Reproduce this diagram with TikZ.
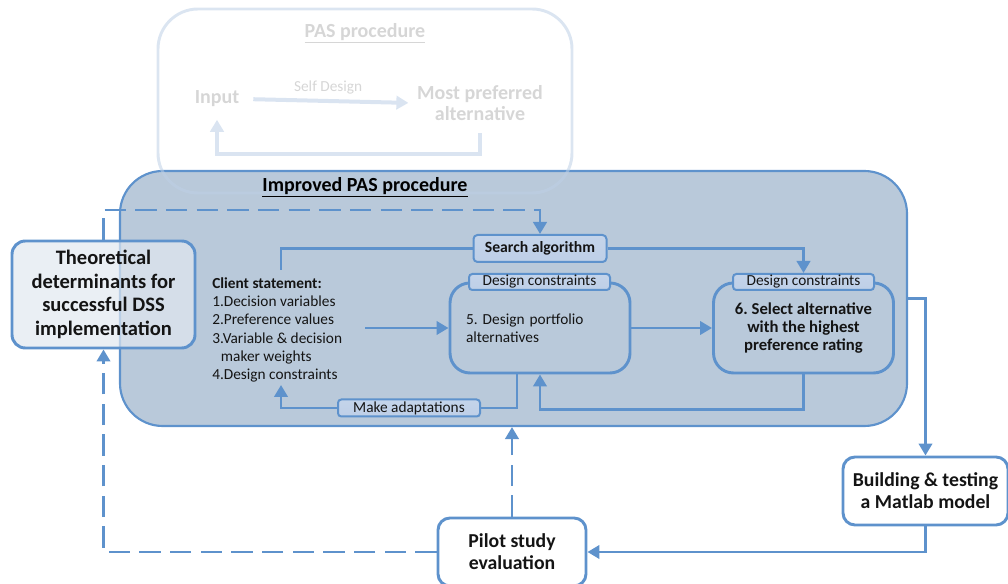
\documentclass[tikz,border=0pt]{standalone}
\usepackage{fontspec}
\setmainfont{Carlito}
\usetikzlibrary{arrows.meta,calc,shadings}
\frenchspacing

\definecolor{lineblue}{RGB}{94,146,204}
\definecolor{mainfill}{RGB}{185,201,218}
\definecolor{theofill}{RGB}{225,232,240}
\definecolor{tagtop}{RGB}{196,212,234}
\definecolor{tagmid}{RGB}{222,233,246}
\definecolor{tagbot}{RGB}{190,207,231}
\definecolor{pasline}{RGB}{190,208,230}
\definecolor{fadedline}{RGB}{218,228,241}
\definecolor{fadedgray}{RGB}{214,214,214}
\definecolor{inktext}{RGB}{20,20,20}

\begin{document}
\begin{tikzpicture}[x=0.75pt,y=-0.75pt,
  conn/.style={draw=lineblue, line width=2.2pt},
  arr/.style={-{Triangle[length=9pt,width=10pt]}},
  dconn/.style={conn, dash pattern=on 16pt off 7pt},
  fadedconn/.style={draw=fadedline, line width=3pt},
  mainbox/.style={draw=lineblue, line width=1.6pt, fill=mainfill, rounded corners=32pt},
  whitebox/.style={draw=lineblue, line width=2.2pt, fill=white, rounded corners=9pt,
    align=center, text=inktext, font=\bfseries\fontsize{14.8}{16.5}\selectfont},
  innerbox/.style={draw=lineblue, line width=2.2pt, rounded corners=15pt, text=inktext,
    minimum width=135pt, minimum height=67.5pt},
  tagbox/.style={draw=lineblue, line width=1.5pt, rounded corners=2.5pt,
    top color=tagtop, middle color=tagmid, bottom color=tagbot, inner sep=0pt,
    text=inktext, font=\fontsize{11.5}{12}\selectfont, minimum height=12pt},
  fadedtext/.style={text=fadedgray, font=\bfseries\fontsize{15}{16}\selectfont, align=center}
]
\useasboundingbox (0,0) rectangle (1008,584);

% improved procedure container
\node[mainbox, minimum width=590.25pt, minimum height=191.25pt] (main) at (513.5,298.5) {};

% original PAS procedure, drawn faded
\node[draw=pasline, draw opacity=0.55, line width=2.2pt, rounded corners=30pt,
      minimum width=310.5pt, minimum height=138pt] (pas) at (365,101) {};
\node[fadedtext] (pastitle) at (365,33) {\underline{PAS procedure}};
\node[fadedtext] (input) at (217,99) {Input};
\node[fadedtext] (mostpref) at (480,103) {Most preferred\\alternative};
\draw[fadedconn, arr, shorten <=7pt, shorten >=3pt] (input.east) -- (mostpref.west)
  node[midway, above=0pt, text=fadedgray, font=\fontsize{11.5}{12}\selectfont] (selfdesign) {Self Design};
\draw[fadedconn, arr, shorten <=6pt, shorten >=6pt]
  (mostpref.south) |- ($(input.south)+(0,42)$) -- (input.south);

\node[text=black, font=\bfseries\fontsize{15}{16}\selectfont] (maintitle) at (365,187)
  {\underline{Improved PAS procedure}};

% theoretical determinants
\node[whitebox, fill=theofill, fill opacity=0.7, text opacity=1, rounded corners=10pt,
      font=\bfseries\fontsize{15.4}{17.6}\selectfont,
      minimum width=137.25pt, minimum height=80.25pt] (theo) at (103.5,294.5)
  {Theoretical\\determinants for\\successful DSS\\implementation};

% client statement
\node[anchor=west, align=left, inner sep=0pt, text=inktext,
      font=\fontsize{11.5}{13.7}\selectfont] (client) at (212,330)
  {\textbf{Client statement:}\\1.Decision variables\\2.Preference values\\3.Variable \& decision\\\hspace*{6.5pt}maker weights\\4.Design constraints};
\coordinate (cstop) at (281,270);
\coordinate (csbot) at (281,385);
\coordinate (csright) at (365,328);

% design steps
\node[innerbox, align=left, inner xsep=12pt, text width=111pt,
      font=\fontsize{11.5}{13.5}\selectfont] (box5) at (540,328)
  {5. Design portfolio\\alternatives};
\node[innerbox, align=center, font=\bfseries\fontsize{12.5}{13.5}\selectfont] (box6) at (803.5,328)
  {6. Select alternative\\with the highest\\preference rating};
\node[tagbox, minimum width=105.75pt] (tag5) at (539.5,282) {Design constraints};
\node[tagbox, minimum width=105.75pt] (tag6) at (803.5,282) {Design constraints};
\node[tagbox, font=\bfseries\fontsize{11.75}{13}\selectfont, rounded corners=3pt,
      minimum width=99.75pt, minimum height=20.25pt] (search) at (540,248.5) {Search algorithm};
\node[tagbox, minimum width=106.5pt, minimum height=12.75pt] (make) at (409,408) {Make adaptations};

% outside steps
\node[whitebox, minimum width=123.75pt, minimum height=51pt] (build) at (925.5,491)
  {Building \& testing\\a Matlab model};
\node[whitebox, minimum width=111pt, minimum height=51pt] (pilot) at (512,552)
  {Pilot study\\evaluation};

% connectors inside the procedure
\draw[conn] (search.west) -| (cstop);
\draw[conn, arr] (search.east) -| (tag6.north);
\draw[conn, arr] (csright) -- (box5.west);
\draw[conn, arr] (box5.east) -- (box6.west);
\draw[conn, arr] (box6.south) |- ($(box5.south)+(0,35)$) -- (box5.south);
\draw[conn] ($(box5.south)+(-23,0)$) |- (make.east);
\draw[conn, arr] (make.west) -| (csbot);

% connectors outside the procedure
\draw[conn, arr] (main.east) -| (build.north);
\draw[conn, arr] (build.south) |- (pilot.east);
\draw[dconn, arr] (pilot.north) -- (pilot.north |- main.south);
\draw[dconn, arr] (pilot.west) -| (theo.south);
\draw[dconn, arr] (theo.north) |- ($(search.north)+(0,-24)$) -- (search.north);
\end{tikzpicture}
\end{document}
